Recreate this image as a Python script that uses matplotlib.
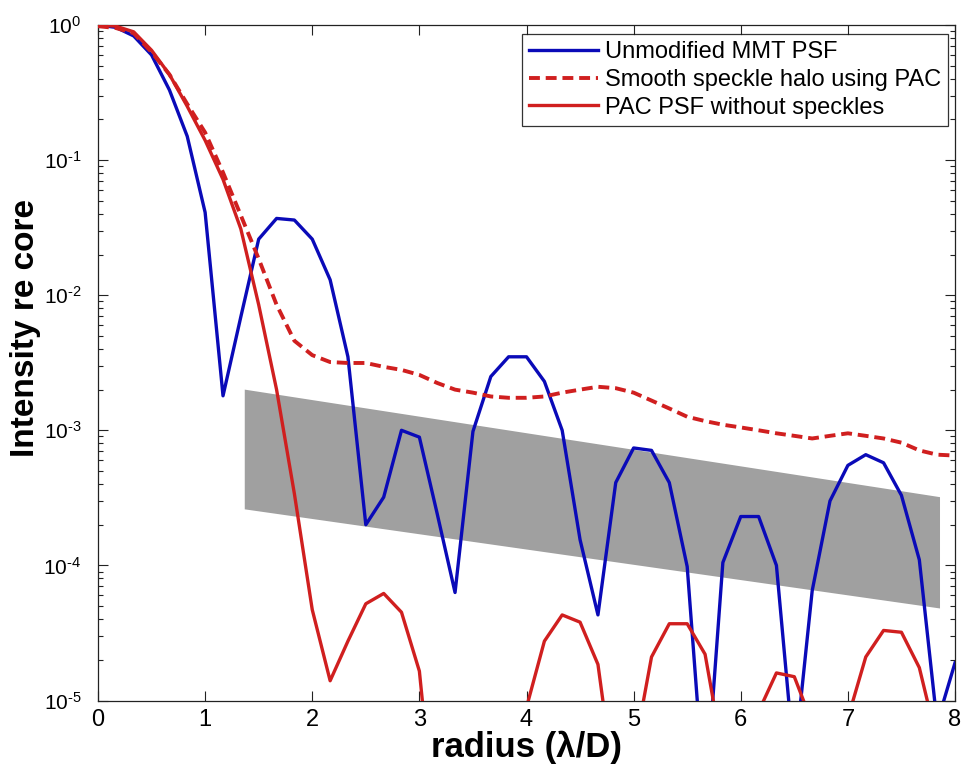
import numpy as np
import matplotlib
matplotlib.use('Agg')
import matplotlib.pyplot as plt
from matplotlib.ticker import LogLocator, NullFormatter, FixedLocator

plt.rcParams['font.family'] = ['Liberation Sans', 'DejaVu Sans']
plt.rcParams['mathtext.fontset'] = 'custom'
plt.rcParams['mathtext.rm'] = 'Liberation Sans'
plt.rcParams['mathtext.it'] = 'Liberation Sans:italic'
plt.rcParams['mathtext.bf'] = 'Liberation Sans:bold'

# radius in lambda/D, sampled every 1/6
radius = [0.0, 0.167, 0.333, 0.5, 0.667, 0.833, 1.0, 1.167, 1.333, 1.5,
          1.667, 1.833, 2.0, 2.167, 2.333, 2.5, 2.667, 2.833, 3.0, 3.167,
          3.333, 3.5, 3.667, 3.833, 4.0, 4.167, 4.333, 4.5, 4.667, 4.833,
          5.0, 5.167, 5.333, 5.5, 5.667, 5.833, 6.0, 6.167, 6.333, 6.5,
          6.667, 6.833, 7.0, 7.167, 7.333, 7.5, 7.667, 7.833, 8.0]

mmt_psf = [1.0, 0.96, 0.83, 0.60, 0.33, 0.15, 0.041, 1.8e-3, 6.9e-3, 0.026,
           0.037, 0.036, 0.026, 0.013, 3.5e-3, 2.0e-4, 3.2e-4, 1.0e-3, 8.9e-4, 2.4e-4,
           6.3e-5, 9.8e-4, 2.5e-3, 3.5e-3, 3.5e-3, 2.3e-3, 1.0e-3, 1.55e-4, 4.3e-5, 4.1e-4,
           7.4e-4, 7.1e-4, 4.1e-4, 9.8e-5, 1.7e-6, 1.05e-4, 2.3e-4, 2.3e-4, 1.0e-4, 3.5e-6,
           6.5e-5, 3.0e-4, 5.5e-4, 6.6e-4, 5.75e-4, 3.3e-4, 1.1e-4, 6.8e-6, 1.9e-5]

halo_pac = [0.98, 0.95, 0.87, 0.63, 0.43, 0.26, 0.16, 0.081, 0.039, 0.0186,
            8.5e-3, 4.6e-3, 3.6e-3, 3.2e-3, 3.15e-3, 3.15e-3, 2.95e-3, 2.8e-3, 2.57e-3, 2.24e-3,
            2.0e-3, 1.9e-3, 1.78e-3, 1.74e-3, 1.74e-3, 1.78e-3, 1.9e-3, 2.0e-3, 2.1e-3, 2.05e-3,
            1.9e-3, 1.66e-3, 1.45e-3, 1.26e-3, 1.17e-3, 1.1e-3, 1.05e-3, 1.0e-3, 9.5e-4, 9.1e-4,
            8.7e-4, 9.1e-4, 9.5e-4, 9.1e-4, 8.7e-4, 8.1e-4, 7.1e-4, 6.6e-4, 6.5e-4]

pac_psf = [1.0, 0.98, 0.89, 0.65, 0.43, 0.25, 0.14, 0.072, 0.031, 8.5e-3,
           2.0e-3, 3.4e-4, 4.7e-5, 1.4e-5, 2.75e-5, 5.2e-5, 6.2e-5, 4.5e-5, 1.65e-5, 8e-7,
           1e-7, 1e-7, 1e-7, 1e-6, 8.9e-6, 2.75e-5, 4.3e-5, 3.8e-5, 1.85e-5, 2e-6,
           4e-6, 2.1e-5, 3.7e-5, 3.7e-5, 2.2e-5, 4e-6, 1e-7, 8.3e-6, 1.6e-5, 1.5e-5,
           6.8e-6, 1e-7, 7.4e-6, 2.1e-5, 3.3e-5, 3.2e-5, 1.75e-5, 5e-6, 1e-7]

# grey band corners
band_x = [1.37, 7.86, 7.86, 1.37]
band_y = [2.0e-3, 3.2e-4, 4.8e-5, 2.6e-4]

ytick_vals = [1e-5, 1e-4, 1e-3, 1e-2, 1e-1, 1]
ytick_labels = [r'$10^{\text{-}5}$', r'$10^{\text{-}4}$', r'$10^{\text{-}3}$',
                r'$10^{\text{-}2}$', r'$10^{\text{-}1}$', r'$10^{0}$']

blue = '#0a0ab8'
red = '#d01f1f'

fig = plt.figure(figsize=(9.63, 7.71), dpi=100)
ax = fig.add_axes([98/963, 70.5/771, 857/963, 675.5/771])

ax.fill(band_x, band_y, color='#a0a0a0', lw=0, zorder=1)
ax.plot(radius, mmt_psf, color=blue, lw=2.4, label='Unmodified MMT PSF', zorder=3)
ax.plot(radius, halo_pac, color=red, lw=2.8, linestyle=(0, (2.8, 1.5)),
        label='Smooth speckle halo using PAC', zorder=3)
ax.plot(radius, pac_psf, color=red, lw=2.4, label='PAC PSF without speckles', zorder=3)

ax.set_yscale('log')
ax.set_xlim(0, 8)
ax.set_ylim(1e-5, 1)
ax.xaxis.set_major_locator(FixedLocator(range(9)))
ax.set_yticks(ytick_vals)
ax.set_yticklabels(ytick_labels)
ax.yaxis.set_minor_locator(LogLocator(base=10, subs=np.arange(2, 10), numticks=20))
ax.yaxis.set_minor_formatter(NullFormatter())

ax.tick_params(which='both', direction='in', top=True, right=True, color='#222222')
ax.tick_params(which='major', length=7, width=0.8)
ax.tick_params(which='minor', length=3.5, width=0.8)
ax.tick_params(axis='x', pad=6, labelsize=17)
ax.tick_params(axis='y', pad=12, labelsize=15)
for s in ax.spines.values():
    s.set_color('#222222')
    s.set_linewidth(0.9)

ax.set_xlabel('radius (λ/D)', fontsize=25, fontweight='bold', labelpad=0)
ax.set_ylabel('Intensity re core', fontsize=24, fontweight='bold')
ax.yaxis.set_label_coords(-0.066, 0.551)

leg = ax.legend(loc='upper right', bbox_to_anchor=(0.992, 0.987), borderaxespad=0,
                fontsize=17, frameon=True, fancybox=False, edgecolor='black',
                handlelength=2.9, handletextpad=0.3, labelspacing=0.25,
                borderpad=0.3)
leg.get_frame().set_linewidth(0.9)

fig.savefig('out.png', dpi=100)
